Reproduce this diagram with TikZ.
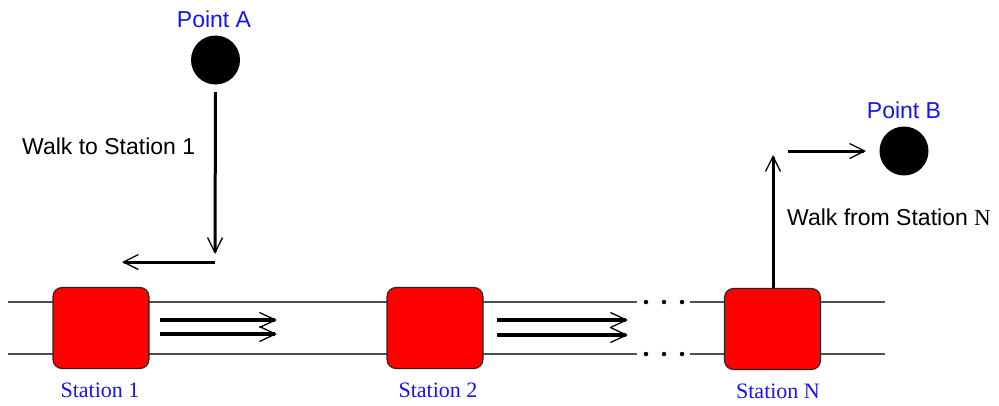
\documentclass[tikz,border=0pt]{standalone}
\usepackage{fontspec}
\setmainfont{Liberation Serif}
\setsansfont{Liberation Sans}
\usetikzlibrary{arrows.meta}
\definecolor{labelblue}{RGB}{20,20,245}
\definecolor{stationred}{RGB}{255,0,0}
\definecolor{trackgray}{RGB}{80,80,80}
\begin{document}
\begin{tikzpicture}[x=1pt,y=-1pt,
  stationbox/.style={draw=black!85, line width=1.1pt, fill=stationred,
    rounded corners=9pt, minimum width=96pt, minimum height=81pt, inner sep=0pt},
  stationlabel/.style={text=labelblue, font=\fontsize{22}{24}\selectfont, inner sep=0pt},
  pointdot/.style={circle, fill=black, minimum size=49pt, inner sep=0pt},
  pointlabel/.style={text=labelblue, font=\sffamily\fontsize{23}{25}\selectfont, inner sep=0pt},
  walklabel/.style={text=black, font=\sffamily\fontsize{23}{25}\selectfont, inner sep=0pt, anchor=west},
  track/.style={draw=trackgray, line width=1.4pt},
  walk/.style={draw=black, line width=3pt,
    -{Straight Barb[length=15pt,width=15pt,line width=1.3pt]}},
  ride/.style={draw=black, line width=3.2pt,
    -{Straight Barb[length=16pt,width=15pt,line width=1.3pt]}},
  trackdot/.style={circle, fill=black, minimum size=4.5pt, inner sep=0pt}]
\useasboundingbox (0,0) rectangle (999,405);

% track rails, with the gap of dots before the last station
\coordinate (r1a) at (8,302);   \coordinate (r1b) at (637,302);
\coordinate (r1c) at (690,302); \coordinate (r1d) at (885,302);
\coordinate (r2a) at (8,354);   \coordinate (r2b) at (637,354);
\coordinate (r2c) at (690,354); \coordinate (r2d) at (885,354);
\draw[track] (r1a) -- (r1b);
\draw[track] (r1c) -- (r1d);
\draw[track] (r2a) -- (r2b);
\draw[track] (r2c) -- (r2d);
\foreach \x [count=\i] in {646,664,682}{
  \node[trackdot] (dt\i) at (\x,302) {};
  \node[trackdot] (db\i) at (\x,354) {};
}

% stations
\node[stationbox] (s1) at (101,328) {};
\node[stationbox] (s2) at (435,328) {};
\node[stationbox] (sN) at (772.5,329) {};
\node[stationlabel] (s1lbl) at (100,390) {Station 1};
\node[stationlabel] (s2lbl) at (438,390) {Station 2};
\node[stationlabel] (sNlbl) at (778,391) {Station N};

% trains running between stations
\coordinate (t1a) at (160,320); \coordinate (t1b) at (277,320);
\coordinate (t2a) at (160,334); \coordinate (t2b) at (277,334);
\coordinate (t3a) at (497,320); \coordinate (t3b) at (628,320);
\coordinate (t4a) at (497,335); \coordinate (t4b) at (628,335);
\draw[ride] (t1a) -- (t1b);
\draw[ride] (t2a) -- (t2b);
\draw[ride] (t3a) -- (t3b);
\draw[ride] (t4a) -- (t4b);

% start point and the walk to the first station
\node[pointdot] (ptA) at (215.5,60) {};
\node[pointlabel] (ptAlbl) at (214,19) {Point A};
\coordinate (a1) at (215,254);
\coordinate (a2) at (215,262);
\coordinate (a3) at (122,262);
\draw[walk] (ptA.south |- 0,92) -- (a1);
\draw[walk] (a2) -- (a3);
\node[walklabel] (walkto) at (22,146) {Walk to Station 1};

% end point and the walk from the last station
\node[pointdot] (ptB) at (904,151) {};
\node[pointlabel] (ptBlbl) at (904,110) {Point B};
\coordinate (b1) at (773,155);
\coordinate (b2) at (788,151);
\coordinate (b3) at (866,151);
\draw[walk] (sN.north -| b1) -- (b1);
\draw[walk] (b2) -- (b3);
\node[walklabel] (walkfrom) at (787,217) {Walk from Station {\rmfamily N}};
\end{tikzpicture}
\end{document}
